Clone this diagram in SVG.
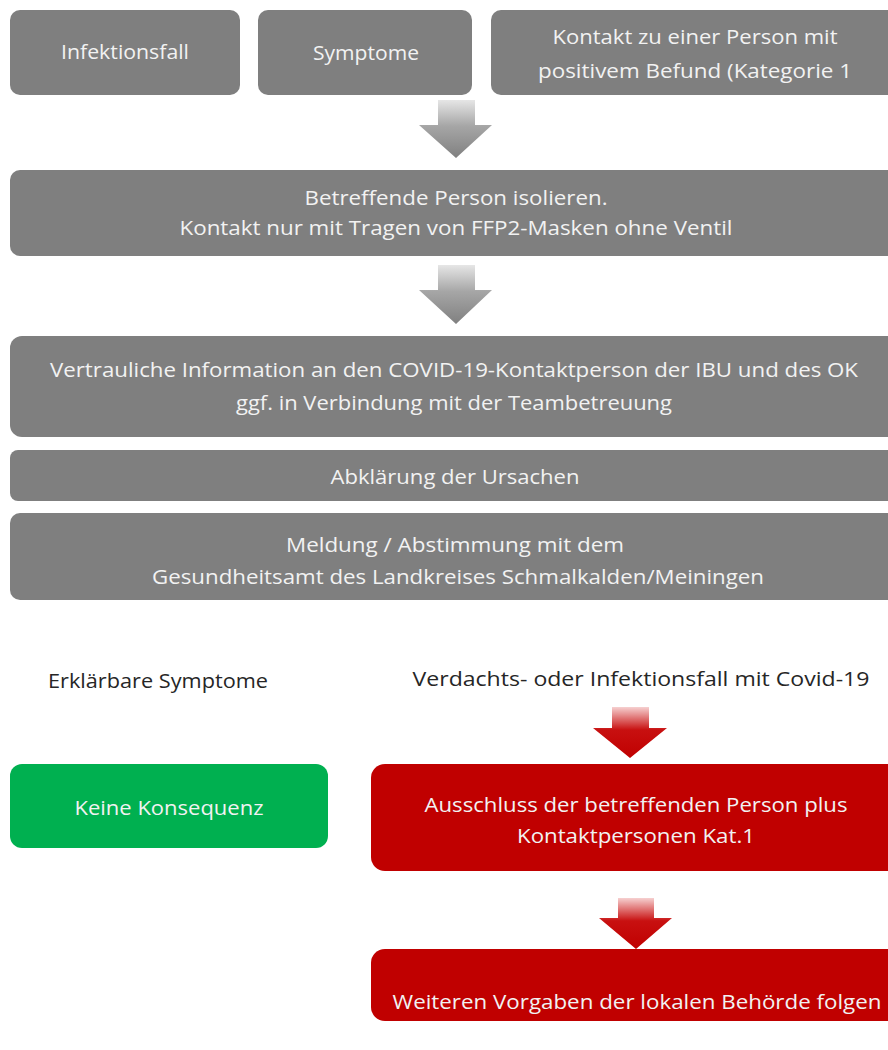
<svg xmlns="http://www.w3.org/2000/svg" width="888" height="1050" viewBox="0 0 888 1050">
<defs>
<linearGradient id="gGrey" x1="0" y1="0" x2="0" y2="1">
<stop offset="0" stop-color="#e6e6e6"/>
<stop offset="0.45" stop-color="#a6a6a6"/>
<stop offset="1" stop-color="#808080"/>
</linearGradient>
<linearGradient id="gRed" x1="0" y1="0" x2="0" y2="1">
<stop offset="0" stop-color="#f6d0d0"/>
<stop offset="0.45" stop-color="#c81010"/>
<stop offset="1" stop-color="#c00000"/>
</linearGradient>
<style>
.grey{fill:#7f7f7f}
.green{fill:#00b050}
.red{fill:#c00000}
.wt{fill:#f2f2f2;font-family:"Open Sans","Liberation Sans",sans-serif;font-size:20px;text-anchor:middle}
.bt{fill:#262626;font-family:"Open Sans","Liberation Sans",sans-serif;font-size:20px;text-anchor:middle}
</style>
</defs>
<rect width="888" height="1050" fill="#ffffff"/>

<g id="connectors">
<path d="M438,100 H475 V125 H492 L456,158 L419,125 H438 Z" fill="url(#gGrey)"/>
<path d="M438,265 H475 V290 H492 L456,324 L419,290 H438 Z" fill="url(#gGrey)"/>
<path d="M612,707 H649 V728 H667 L630,758 L593,728 H612 Z" fill="url(#gRed)"/>
<path d="M618,898 H654 V918 H672 L636,949 L599,918 H618 Z" fill="url(#gRed)"/>
</g>

<g id="n-infektionsfall">
<rect class="grey" x="10" y="10" width="230" height="85" rx="10"/>
<text class="wt" x="125" y="59" textLength="128" lengthAdjust="spacingAndGlyphs">Infektionsfall</text>
</g>
<g id="n-symptome">
<rect class="grey" x="258" y="10" width="214" height="85" rx="10"/>
<text class="wt" x="366" y="60" textLength="106" lengthAdjust="spacingAndGlyphs">Symptome</text>
</g>
<g id="n-kontakt">
<rect class="grey" x="491" y="10" width="410" height="85" rx="10"/>
<text class="wt" x="695" y="44" textLength="285" lengthAdjust="spacingAndGlyphs">Kontakt zu einer Person mit</text>
<text class="wt" x="695" y="78" textLength="314" lengthAdjust="spacingAndGlyphs">positivem Befund (Kategorie 1</text>
</g>
<g id="n-isolieren">
<rect class="grey" x="10" y="170" width="890" height="86" rx="10"/>
<text class="wt" x="456" y="205" textLength="303" lengthAdjust="spacingAndGlyphs">Betreffende Person isolieren.</text>
<text class="wt" x="456" y="235" textLength="553" lengthAdjust="spacingAndGlyphs">Kontakt nur mit Tragen von FFP2-Masken ohne Ventil</text>
</g>
<g id="n-information">
<rect class="grey" x="10" y="336" width="890" height="101" rx="12"/>
<text class="wt" x="454" y="377" textLength="808" lengthAdjust="spacingAndGlyphs">Vertrauliche Information an den COVID-19-Kontaktperson der IBU und des OK</text>
<text class="wt" x="454" y="410" textLength="436" lengthAdjust="spacingAndGlyphs">ggf. in Verbindung mit der Teambetreuung</text>
</g>
<g id="n-abklaerung">
<rect class="grey" x="10" y="450" width="890" height="51" rx="8"/>
<text class="wt" x="455" y="484" textLength="249" lengthAdjust="spacingAndGlyphs">Abklärung der Ursachen</text>
</g>
<g id="n-meldung">
<rect class="grey" x="10" y="513" width="890" height="87" rx="10"/>
<text class="wt" x="455" y="552" textLength="338" lengthAdjust="spacingAndGlyphs">Meldung / Abstimmung mit dem</text>
<text class="wt" x="458" y="584" textLength="612" lengthAdjust="spacingAndGlyphs">Gesundheitsamt des Landkreises Schmalkalden/Meiningen</text>
</g>

<g id="l-erklaerbar">
<text class="bt" x="158" y="688" textLength="220" lengthAdjust="spacingAndGlyphs">Erklärbare Symptome</text>
</g>
<g id="l-verdacht">
<text class="bt" x="641" y="686" textLength="457" lengthAdjust="spacingAndGlyphs">Verdachts- oder Infektionsfall mit Covid-19</text>
</g>

<g id="n-keine">
<rect class="green" x="10" y="764" width="318" height="84" rx="12"/>
<text class="wt" x="169" y="815" textLength="189" lengthAdjust="spacingAndGlyphs">Keine Konsequenz</text>
</g>
<g id="n-ausschluss">
<rect class="red" x="371" y="764" width="530" height="107" rx="14"/>
<text class="wt" x="636" y="812" textLength="423" lengthAdjust="spacingAndGlyphs">Ausschluss der betreffenden Person plus</text>
<text class="wt" x="636" y="843" textLength="238" lengthAdjust="spacingAndGlyphs">Kontaktpersonen Kat.1</text>
</g>
<g id="n-vorgaben">
<rect class="red" x="371" y="949" width="530" height="72" rx="14"/>
<text class="wt" x="637" y="1009" textLength="489" lengthAdjust="spacingAndGlyphs">Weiteren Vorgaben der lokalen Behörde folgen</text>
</g>
</svg>
